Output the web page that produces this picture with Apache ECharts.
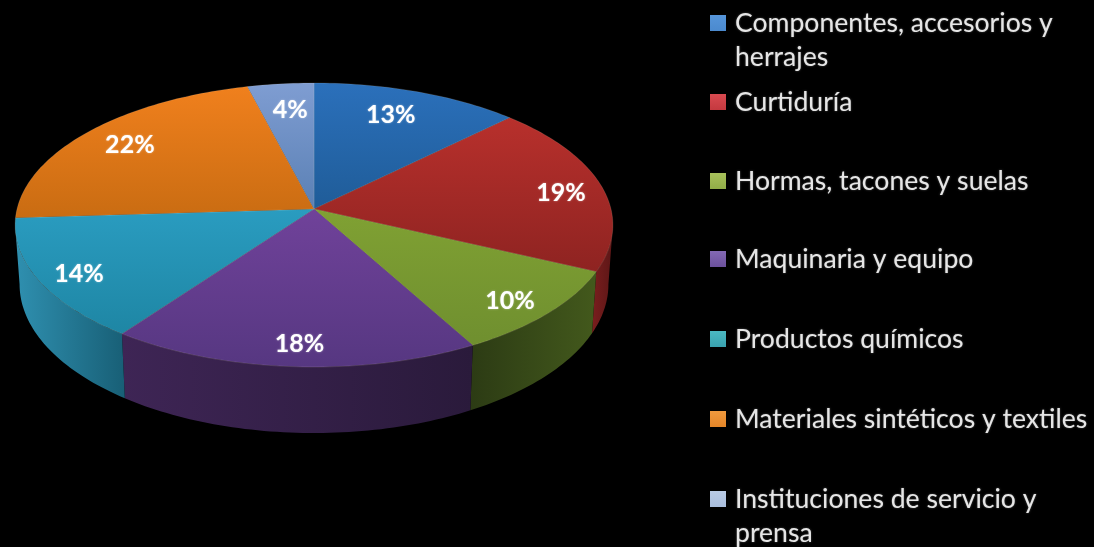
<!DOCTYPE html>
<html><head><meta charset="utf-8">
<style>html,body{margin:0;padding:0;background:#000}#c{width:1094px;height:547px;filter:blur(0.6px)}</style>
<script src="https://cdn.jsdelivr.net/npm/echarts@6/dist/echarts.min.js"></script>
</head><body><div id="c"></div>
<script>
const categories = ['Componentes, accesorios y herrajes','Curtiduría','Hormas, tacones y suelas','Maquinaria y equipo','Productos químicos','Materiales sintéticos y textiles','Instituciones de servicio y prensa'];
const legendText = ['Componentes, accesorios y\nherrajes','Curtiduría','Hormas, tacones y suelas','Maquinaria y equipo','Productos químicos','Materiales sintéticos y textiles','Instituciones de servicio y\nprensa'];
const values = [12.6, 19.4, 10, 18, 14, 22, 4];

const topColors = [['#2b70bb','#1f5c98'],['#b8302c','#8e2321'],['#80a133','#6f8f2f'],['#70429a','#563781'],['#2a9cc0','#1e86a4'],['#f0801d','#c96c12'],['#7f9dd2','#5a80b4']];
const wallColors = [['#1f4a78','#1f4a78'],['#7a1e1e','#5c1616'],['#2c3b14','#43591c'],['#3e2555','#2a1a3b'],['#2f90b0','#185f76'],['#8a4c0e','#8a4c0e'],['#3f5a80','#3f5a80']];
const legendColors = [['#5b9be0','#2f6cb0'],['#e5545a','#b82f35'],['#b5cc66','#84a23c'],['#9076c0','#5f4390'],['#55c6cc','#2f95a5'],['#f7a54a','#dd7a1c'],['#c2d2ea','#7f9cc8']];
const labelOffsets = [[0,-7],[39,1],[31,19],[0,25],[-40,14],[-19,-7],[1,-6]];
const legendTops = [6,85,164,242,322,402,482];
const legendTall = [true,false,false,false,false,false,true];

const CX=314, CY=209, RX=297, RY=140.2, K=0.1126, DEPTH=58.6, LABEL_R=0.72;
const total = values.reduce((a,b)=>a+b,0);
const starts = []; values.reduce((a,v,i)=>(starts[i]=a, a+v),0);
const ang = p => p/total*Math.PI*2;
function project(theta, r, down){
  const u=r*Math.sin(theta), v=-r*Math.cos(theta), w=1-K*v;
  const s = down ? 0.985 : 1;
  return [CX+s*RX*u/w, CY+RY*v/w+(down?DEPTH/w:0)];
}
function arc(a,b,down){
  const n=Math.max(2,Math.ceil((b-a)/0.02)), pts=[];
  for(let i=0;i<=n;i++) pts.push(project(a+(b-a)*i/n,1,down));
  return pts;
}
const VIS0=Math.acos(-K), VIS1=Math.PI*2-VIS0;
const grad=(c,x2,y2)=>new echarts.graphic.LinearGradient(0,0,x2,y2,[{offset:0,color:c[0]},{offset:1,color:c[1]}]);

function makeItem(i){
  return function(params,api){
    const a=ang(starts[i]), b=ang(starts[i]+values[i]);
    const children=[];
    const a2=Math.max(a,VIS0), b2=Math.min(b,VIS1);
    if(b2>a2){
      const pts=arc(a2,b2,false).concat(arc(a2,b2,true).reverse());
      children.push({type:'polygon',shape:{points:pts},style:{fill:grad(wallColors[i],1,0)},z2:1});
    }
    const top=[[CX,CY]].concat(arc(a,b,false));
    children.push({type:'polygon',shape:{points:top},style:{fill:grad(topColors[i],0,1),stroke:'rgba(255,230,200,0.13)',lineWidth:1},z2:2});
    const mid=(a+b)/2, p=project(mid,LABEL_R,false);
    children.push({type:'text',z2:5,style:{x:p[0]+labelOffsets[i][0],y:p[1]+labelOffsets[i][1],text:Math.round(values[i])+'%',
      fill:'#fff',font:'bold 25px Lato',align:'center',verticalAlign:'middle',textShadowColor:'rgba(255,255,255,0.5)',textShadowBlur:2}});
    return {type:'group',children};
  };
}
const series=categories.map((name,i)=>({type:'custom',name,coordinateSystem:'none',silent:true,animation:false,
  data:[[values[i]]],renderItem:makeItem(i),itemStyle:{color:topColors[i][0]}}));
const legend=categories.map((name,i)=>({
  show:true,left:710,top:legendTops[i],padding:0,selectedMode:false,orient:'vertical',
  itemWidth:20,itemHeight:legendTall[i]?68:34,
  icon:legendTall[i]?'path://M0 9H16V25H0Z M20 0L20 0 M20 68L20 68':'path://M0 9H16V25H0Z M20 0L20 0 M20 34L20 34',
  data:[{name,itemStyle:{color:grad(legendColors[i],0,1)}}],
  formatter:()=>legendText[i],
  textStyle:{color:'#e6e6e6',fontFamily:'Lato',fontSize:26.6,lineHeight:34,textShadowColor:'rgba(255,255,255,0.35)',textShadowBlur:2}
}));
const chart=echarts.init(document.getElementById('c'),null,{renderer:'canvas'});
chart.setOption({backgroundColor:'#000',animation:false,legend,series});
</script></body></html>
